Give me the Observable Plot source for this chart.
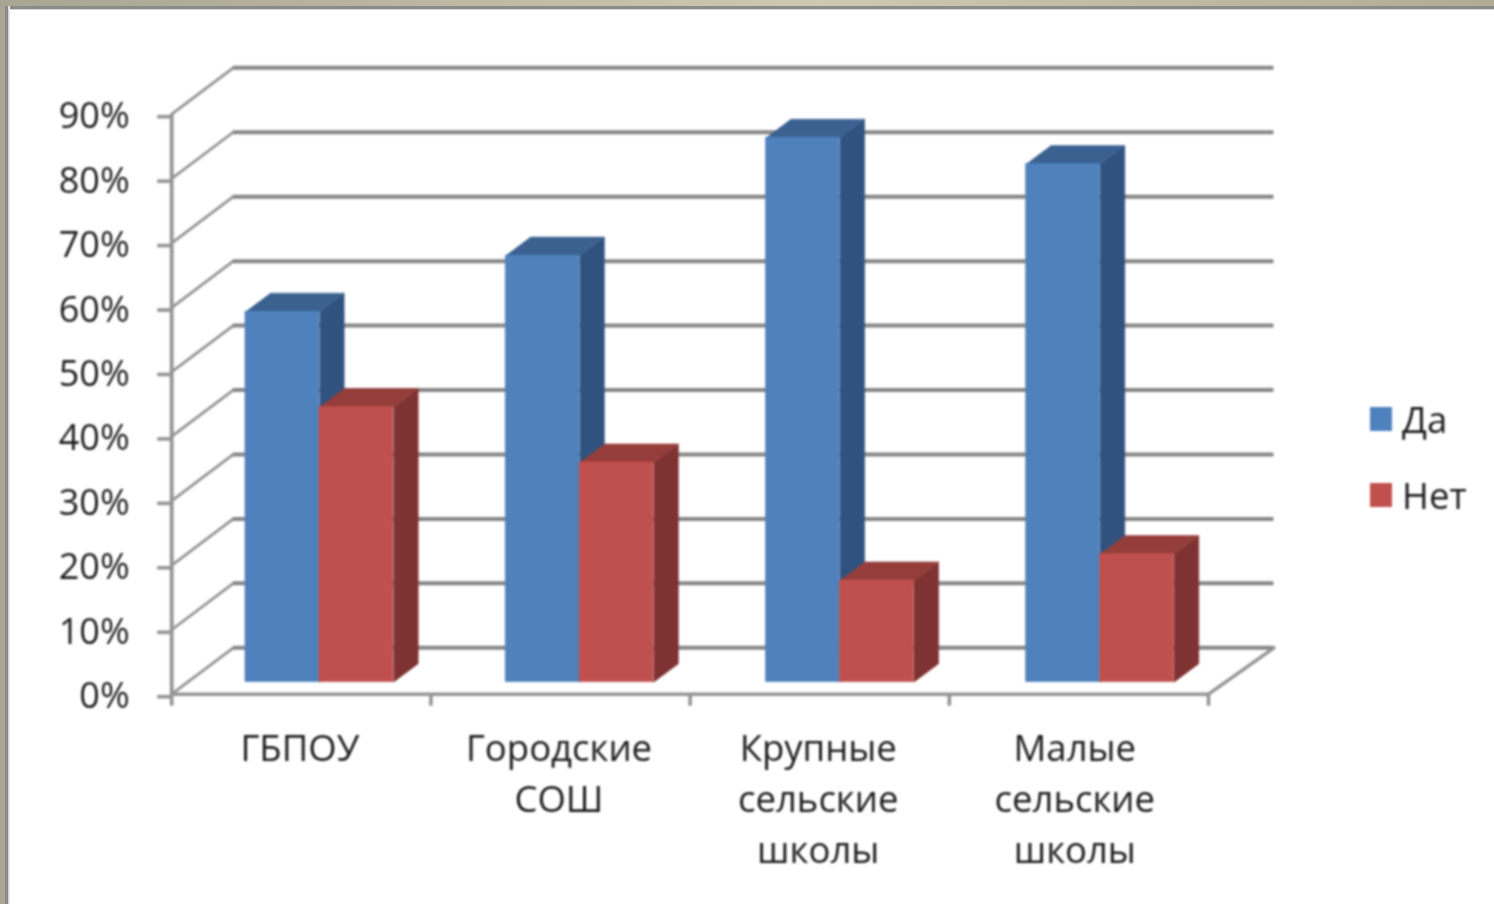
<!DOCTYPE html>
<html lang="ru">
<head>
<meta charset="utf-8">
<script src="https://cdn.jsdelivr.net/npm/d3@7"></script>
<script src="https://cdn.jsdelivr.net/npm/@observablehq/plot@0.6"></script>
<style>
  html, body { margin: 0; padding: 0; background: #fff; overflow: hidden; }
  #stage { position: relative; width: 1494px; height: 904px; overflow: hidden; background: #fff; }
  #chart { position: absolute; left: 0; top: 0; filter: blur(0.8px); }
  #chart svg { display: block; }
  #frameTop { position: absolute; left: 0; top: 0; width: 1494px; height: 6px; background: linear-gradient(90deg, #a8a594, #cfc8b2 55%, #b0ac98); border-bottom: 3px solid #8b8b88; box-shadow: 0 1px 0 #d4d4d4; }
  #frameLeft { position: absolute; left: 0; top: 6px; width: 5px; height: 898px; background: #a9a695; border-right: 3px solid #8b8b88; box-shadow: 1px 0 0 #d4d4d4, 2px 0 0 #eeeeee; }
  #legend { position: absolute; left: 1370px; top: 394px; font: 36.5px "Open Sans", sans-serif; color: #1c1c1c; filter: blur(0.8px); }
  .item { display: flex; align-items: center; height: 50px; margin-bottom: 26px; }
  .swatch { width: 22px; height: 24px; margin-right: 10px; }
</style>
</head>
<body>
<div id="stage">
  <div id="chart"></div>
  <div id="frameTop"></div>
  <div id="frameLeft"></div>
  <div id="legend"></div>
</div>
<script>
// Chart values
const categories = ["ГБПОУ", "Городские\nСОШ", "Крупные\nсельские\nшколы", "Малые\nсельские\nшколы"];
const seriesNames = ["Да", "Нет"];
const daValues = [57.5, 66.2, 84.5, 80.4];
const netValues = [42.7, 34.1, 15.8, 19.9];
const yTicks = [0, 10, 20, 30, 40, 50, 60, 70, 80, 90];
const labelPositions = [0.5, 1.5, 2.5, 3.49];

// Colours of each face
const frontColors = ["#4f81bd", "#c0504d"];
const topColors = ["#3a6190", "#953d3a"];
const sideColors = ["#30527e", "#7e3231"];

// Pseudo-3D projection, in data units (category widths, percent points)
const wallDepthX = 0.2375, wallDepthY = 7.2, wallEndExtra = 0.015;
const barDepthX = 0.0955, barDepthY = 2.87;
const barStart = 0.2845, barWidth = 0.2855, barBase = 1.86, barStep = 1.0039;

const lastX = categories.length;
const maxY = yTicks[yTicks.length - 1];
const faceKeys = [
  ...seriesNames.map(s => s + " front"),
  ...seriesNames.map(s => s + " top"),
  ...seriesNames.map(s => s + " side")
];

const bars = [];
[daValues, netValues].forEach((values, s) => {
  values.forEach((v, c) => {
    const x1 = c * barStep + barStart + s * barWidth;
    bars.push({id: `${s}-${c}`, name: seriesNames[s], x1, x2: x1 + barWidth, y1: barBase, y2: barBase + v});
  });
});

const sidePts = bars.flatMap(b => [
  {id: b.id, k: b.name + " side", x: b.x2, y: b.y1},
  {id: b.id, k: b.name + " side", x: b.x2 + barDepthX, y: b.y1 + barDepthY},
  {id: b.id, k: b.name + " side", x: b.x2 + barDepthX, y: b.y2 + barDepthY},
  {id: b.id, k: b.name + " side", x: b.x2, y: b.y2}
]);
const topPts = bars.flatMap(b => [
  {id: b.id, k: b.name + " top", x: b.x1, y: b.y2},
  {id: b.id, k: b.name + " top", x: b.x2, y: b.y2},
  {id: b.id, k: b.name + " top", x: b.x2 + barDepthX, y: b.y2 + barDepthY},
  {id: b.id, k: b.name + " top", x: b.x1 + barDepthX, y: b.y2 + barDepthY}
]);
const diagPts = yTicks.flatMap(v => [
  {v, x: 0, y: v},
  {v, x: wallDepthX, y: v + wallDepthY}
]);
const floorEdge = [
  {x: 0, y: 0},
  {x: lastX, y: 0},
  {x: lastX + wallDepthX + wallEndExtra, y: wallDepthY}
];

const gridColor = "#868686";
const lineColor = "#949494";
const textColor = "#1c1c1c";
const font = '"Open Sans", sans-serif';

const chart = Plot.plot({
  width: 1494,
  height: 904,
  marginTop: 113.7,
  marginBottom: 210.3,
  marginLeft: 171.2,
  marginRight: 286,
  style: {background: "transparent", fontFamily: font, color: textColor, overflow: "visible"},
  x: {domain: [0, lastX], axis: null},
  y: {domain: [0, maxY], axis: null},
  color: {domain: faceKeys, range: [...frontColors, ...topColors, ...sideColors]},
  marks: [
    Plot.line(diagPts, {x: "x", y: "y", z: "v", stroke: lineColor, strokeWidth: 2.8}),
    Plot.ruleY(yTicks, {
      y: d => d + wallDepthY,
      x1: wallDepthX, x2: lastX + wallDepthX + wallEndExtra,
      stroke: gridColor, strokeWidth: 4
    }),
    Plot.line(floorEdge, {x: "x", y: "y", stroke: lineColor, strokeWidth: 3.4, strokeLinejoin: "miter"}),
    Plot.ruleX([0], {y1: 0, y2: maxY, stroke: lineColor, strokeWidth: 3.8}),
    Plot.axisY({
      ticks: yTicks, tickSize: 14, tickPadding: 28, tickFormat: d => d + "%", dy: 2.5,
      stroke: lineColor, strokeWidth: 3.6, fontSize: 36, label: null, fill: textColor
    }),
    Plot.axisX({
      ticks: d3.range(0, lastX + 1), tickSize: 12, tickFormat: () => "",
      stroke: lineColor, strokeWidth: 3.6, label: null
    }),
    Plot.axisX({
      ticks: labelPositions, tickSize: 0, tickPadding: 30.5,
      tickFormat: d => categories[Math.floor(d)],
      fontSize: 36.5, lineHeight: 1.4, dx: -1.5, label: null, fill: textColor
    }),
    Plot.line(sidePts, {x: "x", y: "y", z: "id", fill: "k", stroke: "k", strokeWidth: 0.5}),
    Plot.line(topPts, {x: "x", y: "y", z: "id", fill: "k", stroke: "k", strokeWidth: 0.5}),
    Plot.rect(bars, {x1: "x1", x2: "x2", y1: "y1", y2: "y2", fill: d => d.name + " front", stroke: d => d.name + " front", strokeWidth: 0.5})
  ]
});
document.getElementById("chart").append(chart);

const legend = d3.select("#legend");
seriesNames.forEach((name, i) => {
  const item = legend.append("div").attr("class", "item");
  item.append("div").attr("class", "swatch").style("background", frontColors[i]);
  item.append("div").text(name);
});
</script>
</body>
</html>
